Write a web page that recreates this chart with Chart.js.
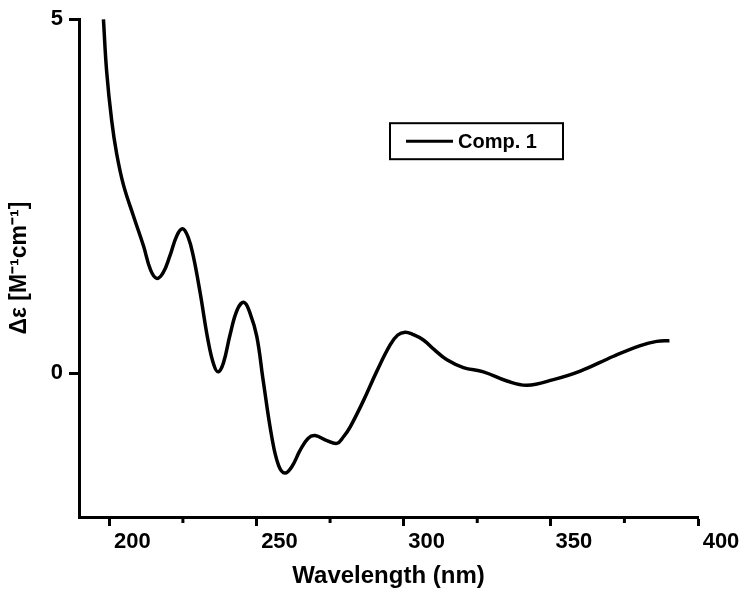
<!DOCTYPE html>
<html>
<head>
<meta charset="utf-8">
<script src="https://cdn.jsdelivr.net/npm/chart.js@4.4.1/dist/chart.umd.min.js"></script>
<style>
  html, body { margin: 0; padding: 0; background: #ffffff; }
  #c { display: block; }
</style>
</head>
<body>
<canvas id="c" width="744" height="591"></canvas>
<script>
// ---- Data ----
const seriesLabel = "Comp. 1";
const wavelength = [198.0, 199.1, 200.8, 202.5, 204.8, 208.2, 211.6, 214.0, 216.1, 218.3,
  220.6, 222.9, 224.9, 226.8, 228.5, 230.8, 233.6, 235.5, 237.0, 238.8,
  241.0, 243.5, 245.8, 247.8, 250.1, 252.3, 255.2, 257.5, 259.7, 262.0,
  264.8, 267.5, 269.9, 273.9, 277.3, 279.5, 281.8, 286.3, 290.9, 295.4,
  298.0, 300.5, 303.0, 306.7, 310.5, 314.7, 320.3, 327.1, 335.1, 341.9,
  350.9, 360.0, 371.3, 380.4, 386.0, 390.3];
const deltaEps = [5.00, 4.26, 3.57, 3.10, 2.66, 2.22, 1.80, 1.46, 1.34, 1.42,
  1.66, 1.94, 2.04, 1.92, 1.66, 1.15, 0.45, 0.12, 0.02, 0.15,
  0.54, 0.90, 1.00, 0.85, 0.52, -0.11, -0.90, -1.30, -1.41, -1.32,
  -1.09, -0.92, -0.88, -0.95, -0.99, -0.90, -0.76, -0.39, 0.03, 0.40,
  0.54, 0.58, 0.55, 0.47, 0.33, 0.19, 0.08, 0.02, -0.11, -0.17,
  -0.09, 0.03, 0.24, 0.39, 0.45, 0.46];
const xMajorTicks = [200, 250, 300, 350, 400];
const xMinorTicks = [225, 275, 325, 375];
const yTicks = [0, 5];
const xTitle = "Wavelength (nm)";
const yTitle = "\u0394\u03B5 [M\u207B\u00B9cm\u207B\u00B9]";

const points = wavelength.map((w, i) => ({ x: w, y: deltaEps[i] }));
const FONT = "'Liberation Sans', Arial, Helvetica, sans-serif";

// minor ticks on the x axis
const minorTicksPlugin = {
  id: 'minorTicks',
  afterDraw(chart) {
    const ctx = chart.ctx;
    const xs = chart.scales.x;
    const y0 = chart.chartArea.bottom;
    ctx.save();
    ctx.strokeStyle = '#000';
    ctx.lineWidth = 3;
    xMinorTicks.forEach(v => {
      const px = xs.getPixelForValue(v);
      ctx.beginPath();
      ctx.moveTo(px, y0);
      ctx.lineTo(px, y0 + 6);
      ctx.stroke();
    });
    ctx.restore();
  }
};

// boxed legend inside the plot area
const boxLegendPlugin = {
  id: 'boxLegend',
  afterDraw(chart) {
    const ctx = chart.ctx;
    const ca = chart.chartArea;
    const ds = chart.data.datasets[0];
    const bx = ca.left + 311, by = ca.top + 104, bw = 173, bh = 36;
    ctx.save();
    ctx.fillStyle = '#fff';
    ctx.fillRect(bx, by, bw, bh);
    ctx.strokeStyle = '#000';
    ctx.lineWidth = 2;
    ctx.strokeRect(bx, by, bw, bh);
    ctx.lineWidth = 3;
    ctx.beginPath();
    ctx.moveTo(bx + 16, by + bh / 2);
    ctx.lineTo(bx + 63, by + bh / 2);
    ctx.stroke();
    ctx.fillStyle = '#000';
    ctx.font = "bold 20px " + FONT;
    ctx.textBaseline = 'middle';
    ctx.textAlign = 'left';
    ctx.fillText(ds.label, bx + 68, by + bh / 2 + 1);
    ctx.restore();
  }
};

new Chart(document.getElementById('c'), {
  type: 'line',
  data: {
    datasets: [{
      label: seriesLabel,
      data: points,
      borderColor: '#000',
      borderWidth: 3.5,
      pointRadius: 0,
      fill: false,
      tension: 0.4
    }]
  },
  options: {
    responsive: false,
    animation: false,
    layout: { padding: { top: 14, right: 46, left: 0, bottom: 0 } },
    plugins: {
      legend: { display: false },
      tooltip: { enabled: false }
    },
    scales: {
      x: {
        type: 'linear',
        min: 189.7,
        max: 400,
        afterBuildTicks: s => { s.ticks = xMajorTicks.map(v => ({ value: v })); },
        afterFit: s => { s.height = 74; },
        border: { display: true, color: '#000', width: 3 },
        grid: { display: true, drawOnChartArea: false, drawTicks: true, tickLength: 9, tickWidth: 3, tickColor: '#000' },
        ticks: {
          color: '#000',
          font: { family: FONT, size: 22, weight: 'bold' },
          padding: 3,
          labelOffset: 23,
          maxRotation: 0,
          autoSkip: false
        },
        title: {
          display: true,
          text: xTitle,
          color: '#000',
          font: { family: FONT, size: 24, weight: 'bold' },
          padding: { top: 0, bottom: 0 }
        }
      },
      y: {
        type: 'linear',
        min: -2.03,
        max: 5,
        afterBuildTicks: s => { s.ticks = yTicks.map(v => ({ value: v })); },
        afterFit: s => { s.width = 79; },
        border: { display: true, color: '#000', width: 3 },
        grid: { display: true, drawOnChartArea: false, drawTicks: true, tickLength: 10, tickWidth: 3, tickColor: '#000' },
        ticks: {
          color: '#000',
          font: { family: FONT, size: 22, weight: 'bold' },
          padding: 6
        },
        title: {
          display: true,
          text: yTitle,
          color: '#000',
          font: { family: FONT, size: 23, weight: 'bold' },
          padding: { top: 6, bottom: 0 }
        }
      }
    }
  },
  plugins: [minorTicksPlugin, boxLegendPlugin]
});
</script>
</body>
</html>
